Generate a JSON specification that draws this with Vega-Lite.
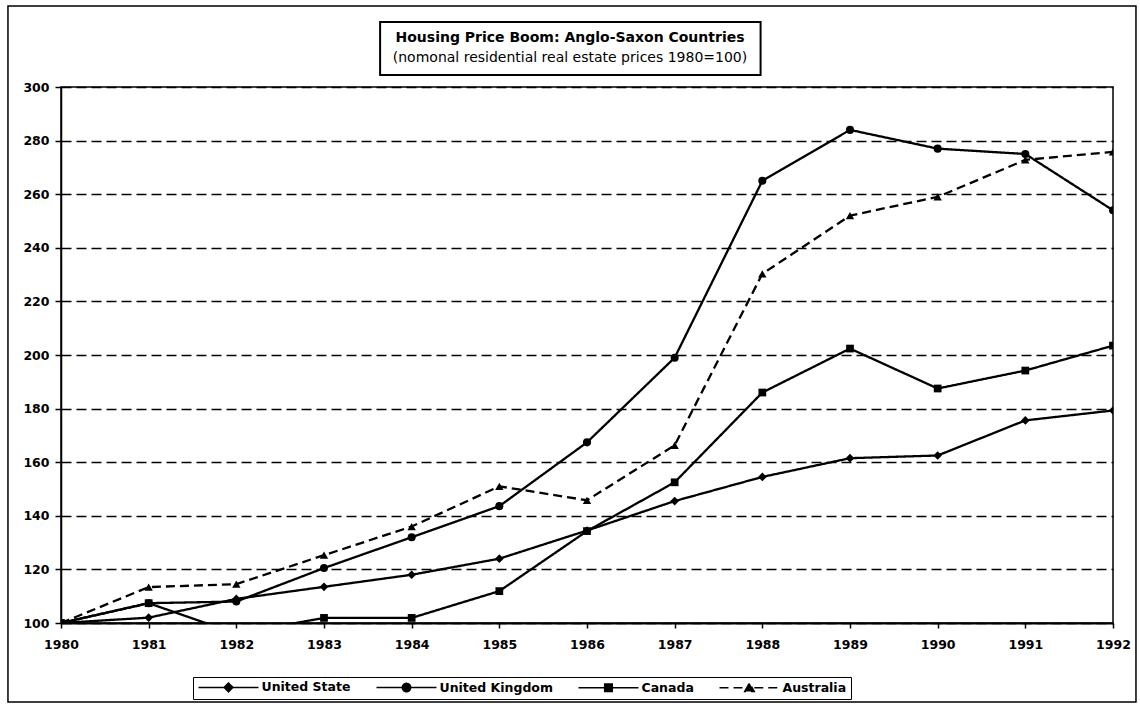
{
  "$schema": "https://vega.github.io/schema/vega-lite/v6.json",
  "width": 1052,
  "height": 536,
  "autosize": {"type": "none"},
  "padding": {"left": 61, "top": 87, "right": 27, "bottom": 81},
  "background": "white",
  "title": {
    "text": "Housing Price Boom: Anglo-Saxon Countries",
    "subtitle": "(nomonal residential real estate prices  1980=100)",
    "anchor": "middle",
    "frame": "group",
    "dx": -17,
    "offset": -60,
    "font": "DejaVu Sans",
    "fontSize": 14,
    "fontWeight": "bold",
    "color": "black",
    "subtitleFont": "DejaVu Sans",
    "subtitleFontSize": 14,
    "subtitleFontWeight": "normal",
    "subtitleColor": "black",
    "subtitlePadding": 6
  },
  "config": {
    "view": {"stroke": "black", "strokeWidth": 1.5},
    "axis": {
      "labelFont": "DejaVu Sans",
      "labelFontSize": 12.5,
      "labelFontWeight": "bold",
      "labelColor": "black",
      "tickColor": "black",
      "tickWidth": 1.5,
      "domainColor": "black",
      "domainWidth": 1.5,
      "title": null
    }
  },
  "datasets": {
    "prices": [
      {"year": 1980, "country": "United State", "index": 100},
      {"year": 1981, "country": "United State", "index": 102},
      {"year": 1982, "country": "United State", "index": 109},
      {"year": 1983, "country": "United State", "index": 113.5},
      {"year": 1984, "country": "United State", "index": 118},
      {"year": 1985, "country": "United State", "index": 124},
      {"year": 1986, "country": "United State", "index": 134.5},
      {"year": 1987, "country": "United State", "index": 145.5},
      {"year": 1988, "country": "United State", "index": 154.5},
      {"year": 1989, "country": "United State", "index": 161.5},
      {"year": 1990, "country": "United State", "index": 162.5},
      {"year": 1991, "country": "United State", "index": 175.6},
      {"year": 1992, "country": "United State", "index": 179.3},
      {"year": 1980, "country": "United Kingdom", "index": 100},
      {"year": 1981, "country": "United Kingdom", "index": 107.4},
      {"year": 1982, "country": "United Kingdom", "index": 108},
      {"year": 1983, "country": "United Kingdom", "index": 120.5},
      {"year": 1984, "country": "United Kingdom", "index": 132},
      {"year": 1985, "country": "United Kingdom", "index": 143.6},
      {"year": 1986, "country": "United Kingdom", "index": 167.4},
      {"year": 1987, "country": "United Kingdom", "index": 199},
      {"year": 1988, "country": "United Kingdom", "index": 265},
      {"year": 1989, "country": "United Kingdom", "index": 284},
      {"year": 1990, "country": "United Kingdom", "index": 277},
      {"year": 1991, "country": "United Kingdom", "index": 275},
      {"year": 1992, "country": "United Kingdom", "index": 254},
      {"year": 1980, "country": "Canada", "index": 100},
      {"year": 1981, "country": "Canada", "index": 107.4},
      {"year": 1982, "country": "Canada", "index": 96},
      {"year": 1983, "country": "Canada", "index": 101.9},
      {"year": 1984, "country": "Canada", "index": 101.9},
      {"year": 1985, "country": "Canada", "index": 111.9},
      {"year": 1986, "country": "Canada", "index": 134.3},
      {"year": 1987, "country": "Canada", "index": 152.5},
      {"year": 1988, "country": "Canada", "index": 186},
      {"year": 1989, "country": "Canada", "index": 202.4},
      {"year": 1990, "country": "Canada", "index": 187.5},
      {"year": 1991, "country": "Canada", "index": 194.2},
      {"year": 1992, "country": "Canada", "index": 203.5},
      {"year": 1980, "country": "Australia", "index": 100},
      {"year": 1981, "country": "Australia", "index": 113.4},
      {"year": 1982, "country": "Australia", "index": 114.5},
      {"year": 1983, "country": "Australia", "index": 125.3},
      {"year": 1984, "country": "Australia", "index": 136},
      {"year": 1985, "country": "Australia", "index": 151},
      {"year": 1986, "country": "Australia", "index": 145.8},
      {"year": 1987, "country": "Australia", "index": 166.3},
      {"year": 1988, "country": "Australia", "index": 230.3},
      {"year": 1989, "country": "Australia", "index": 252},
      {"year": 1990, "country": "Australia", "index": 259},
      {"year": 1991, "country": "Australia", "index": 272.8},
      {"year": 1992, "country": "Australia", "index": 275.8}
    ]
  },
  "layer": [
    {
      "data": {"name": "prices"},
      "mark": {"type": "line", "clip": true, "color": "black", "strokeWidth": 2.3},
      "encoding": {
        "x": {
          "field": "year", "type": "quantitative",
          "scale": {"domain": [1980, 1992], "nice": false, "zero": false},
          "axis": {
            "values": [1980, 1981, 1982, 1983, 1984, 1985, 1986, 1987, 1988, 1989, 1990, 1991, 1992],
            "format": "d", "grid": false, "tickSize": 5, "labelPadding": 10,
            "labelFlush": false, "domainWidth": 2
          }
        },
        "y": {
          "field": "index", "type": "quantitative",
          "scale": {"domain": [100, 300], "nice": false, "zero": false},
          "axis": {
            "values": [100, 120, 140, 160, 180, 200, 220, 240, 260, 280, 300],
            "grid": true, "gridColor": "black", "gridDash": [10, 5], "gridWidth": 1.5,
            "gridOpacity": 1, "tickSize": 6, "labelPadding": 6
          }
        },
        "strokeDash": {
          "field": "country", "type": "nominal",
          "scale": {
            "domain": ["United State", "United Kingdom", "Canada", "Australia"],
            "range": [[1, 0], [1, 0], [1, 0], [9, 5]]
          },
          "legend": {
            "orient": "none",
            "legendX": 132,
            "legendY": 590,
            "direction": "horizontal",
            "title": null,
            "strokeColor": "black",
            "padding": 4,
            "labelFont": "DejaVu Sans",
            "labelFontSize": 12.5,
            "labelFontWeight": "bold",
            "labelColor": "black",
            "symbolSize": 64,
            "symbolStrokeWidth": 1.5,
            "symbolStrokeColor": "black",
            "symbolFillColor": "black",
            "labelOffset": 52,
            "columnPadding": 22,
            "encode": {
              "symbols": {
                "update": {
                  "shape": {"signal": "datum.value === 'United State' ? 'M-1.19,0H5.21M7.41,0H13.81M5.21,0L6.31,-1.1L7.41,0L6.31,1.1Z' : datum.value === 'United Kingdom' ? 'M-1.19,0H5.26M7.36,0H13.81M5.26,0A1.05,1.05,0,1,1,7.36,0A1.05,1.05,0,1,1,5.26,0Z' : datum.value === 'Canada' ? 'M-1.19,0H5.36M7.26,0H13.81M5.36,-0.95H7.26V0.95H5.36Z' : 'M-1.19,0H5.11M7.51,0H13.81M5.11,0.95L6.31,-1.2L7.51,0.95Z'"},
                  "fill": {"value": "black"},
                  "stroke": {"value": "black"}
                }
              }
            }
          }
        }
      }
    },
    {
      "data": {"name": "prices"},
      "transform": [{"filter": "datum.country === 'United State'"}],
      "mark": {"type": "point", "shape": "diamond", "filled": true, "color": "black", "size": 75, "opacity": 1, "clip": true},
      "encoding": {
        "x": {"field": "year", "type": "quantitative"},
        "y": {"field": "index", "type": "quantitative"}
      }
    },
    {
      "data": {"name": "prices"},
      "transform": [{"filter": "datum.country === 'United Kingdom'"}],
      "mark": {"type": "point", "shape": "circle", "filled": true, "color": "black", "size": 65, "opacity": 1, "clip": true},
      "encoding": {
        "x": {"field": "year", "type": "quantitative"},
        "y": {"field": "index", "type": "quantitative"}
      }
    },
    {
      "data": {"name": "prices"},
      "transform": [{"filter": "datum.country === 'Canada'"}],
      "mark": {"type": "point", "shape": "square", "filled": true, "color": "black", "size": 60, "opacity": 1, "clip": true},
      "encoding": {
        "x": {"field": "year", "type": "quantitative"},
        "y": {"field": "index", "type": "quantitative"}
      }
    },
    {
      "data": {"name": "prices"},
      "transform": [{"filter": "datum.country === 'Australia'"}],
      "mark": {"type": "point", "shape": "triangle-up", "filled": true, "color": "black", "size": 70, "opacity": 1, "clip": true},
      "encoding": {
        "x": {"field": "year", "type": "quantitative"},
        "y": {"field": "index", "type": "quantitative"}
      }
    },
    {
      "data": {"values": [{}]},
      "mark": {"type": "rect", "fill": "transparent", "stroke": "black", "strokeWidth": 2, "clip": false},
      "encoding": {
        "x": {"datum": 1983.64, "type": "quantitative"},
        "x2": {"datum": 1987.98},
        "y": {"datum": 324.25, "type": "quantitative"},
        "y2": {"datum": 304.5}
      }
    },
    {
      "data": {"values": [{}]},
      "mark": {"type": "rect", "fill": "transparent", "stroke": "black", "strokeWidth": 1.5, "clip": false},
      "encoding": {
        "x": {"datum": 1979.395, "type": "quantitative"},
        "x2": {"datum": 1992.262},
        "y": {"datum": 330.2, "type": "quantitative"},
        "y2": {"datum": 70.52}
      }
    }
  ]
}
